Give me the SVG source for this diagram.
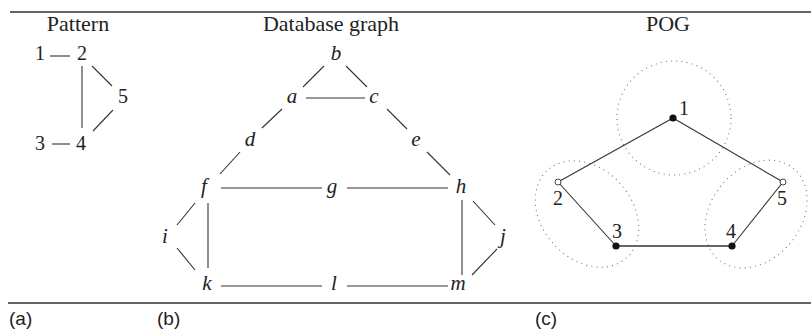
<svg xmlns="http://www.w3.org/2000/svg" width="811" height="334" viewBox="0 0 811 334">
<style>
.t{font-family:"Liberation Serif","Times New Roman",serif;font-size:22px;fill:#222;text-anchor:middle}
.n{font-family:"Liberation Serif","Times New Roman",serif;font-size:20px;fill:#222;text-anchor:middle}
.v{font-family:"Liberation Serif","Times New Roman",serif;font-size:21px;font-style:italic;fill:#222;text-anchor:middle}
.p{font-family:"Liberation Sans",Arial,sans-serif;font-size:19px;fill:#222}
.e line{stroke:#333;stroke-width:1.1}
.rule{stroke:#333;stroke-width:1.7}
.dot{fill:none;stroke:#777;stroke-width:1.1;stroke-dasharray:1 4.2}
.full{fill:#111}
.open{fill:#fff;stroke:#333;stroke-width:0.9}
</style>
<line class="rule" x1="10" y1="12" x2="811" y2="12"/>
<line class="rule" x1="8" y1="303" x2="811" y2="303"/>
<text class="t" x="78" y="31">Pattern</text>
<text class="t" x="331" y="31">Database graph</text>
<text class="t" x="668" y="31">POG</text>
<text class="p" x="9" y="325">(a)</text>
<text class="p" x="157" y="325">(b)</text>
<text class="p" x="535" y="325">(c)</text>

<g id="pattern-edges" class="e">
<line x1="50" y1="56" x2="70" y2="56"/>
<line x1="52" y1="144" x2="70" y2="144"/>
<line x1="82" y1="66" x2="82" y2="128"/>
<line x1="92" y1="66" x2="112" y2="86"/>
<line x1="93" y1="131" x2="113" y2="110"/>
</g>
<g id="p1"><text class="n" x="40" y="60">1</text></g>
<g id="p2"><text class="n" x="82" y="60">2</text></g>
<g id="p3"><text class="n" x="40" y="150">3</text></g>
<g id="p4"><text class="n" x="81" y="150">4</text></g>
<g id="p5"><text class="n" x="123" y="103">5</text></g>

<g id="db-edges" class="e">
<line x1="324" y1="66" x2="303" y2="87"/>
<line x1="346" y1="66" x2="367" y2="87"/>
<line x1="306" y1="98" x2="365" y2="98"/>
<line x1="282" y1="109" x2="262" y2="128"/>
<line x1="387" y1="109" x2="407" y2="129"/>
<line x1="240" y1="152" x2="220" y2="174"/>
<line x1="427" y1="152" x2="450" y2="175"/>
<line x1="221" y1="188" x2="322" y2="188"/>
<line x1="347" y1="188" x2="448" y2="188"/>
<line x1="195" y1="203" x2="177" y2="225"/>
<line x1="177" y1="248" x2="195" y2="270"/>
<line x1="208" y1="203" x2="208" y2="268"/>
<line x1="462" y1="200" x2="462" y2="275"/>
<line x1="473" y1="201" x2="495" y2="225"/>
<line x1="497" y1="249" x2="472" y2="275"/>
<line x1="221" y1="286" x2="322" y2="286"/>
<line x1="347" y1="286" x2="448" y2="286"/>
</g>
<g id="db-b"><text class="v" x="336" y="60">b</text></g>
<g id="db-a"><text class="v" x="292" y="103">a</text></g>
<g id="db-c"><text class="v" x="374" y="103">c</text></g>
<g id="db-d"><text class="v" x="250" y="146">d</text></g>
<g id="db-e"><text class="v" x="416" y="146">e</text></g>
<g id="db-f"><text class="v" x="204" y="193">f</text></g>
<g id="db-g"><text class="v" x="332" y="193">g</text></g>
<g id="db-h"><text class="v" x="461" y="193">h</text></g>
<g id="db-i"><text class="v" x="165" y="243">i</text></g>
<g id="db-j"><text class="v" x="503" y="243">j</text></g>
<g id="db-k"><text class="v" x="207" y="290">k</text></g>
<g id="db-l"><text class="v" x="334" y="290">l</text></g>
<g id="db-m"><text class="v" x="458" y="290">m</text></g>

<g id="pog-regions">
<circle class="dot" cx="674" cy="118" r="57"/>
<ellipse class="dot" cx="587" cy="214" rx="59" ry="45" transform="rotate(48 587 214)"/>
<ellipse class="dot" cx="756" cy="214" rx="59" ry="45" transform="rotate(-51 756 214)"/>
</g>
<g id="pog-edges" class="e">
<line x1="673" y1="118" x2="558" y2="182"/>
<line x1="673" y1="118" x2="783" y2="182"/>
<line x1="558" y1="182" x2="616" y2="246"/>
<line x1="616" y1="246" x2="732" y2="246" style="stroke-width:1.4"/>
<line x1="732" y1="246" x2="783" y2="182"/>
</g>
<g id="pog1"><circle class="full" cx="673" cy="118" r="3.6"/><text class="n" x="684" y="115">1</text></g>
<g id="pog2"><circle class="open" cx="558" cy="182" r="3"/><text class="n" x="558" y="205">2</text></g>
<g id="pog3"><circle class="full" cx="616" cy="246" r="3.6"/><text class="n" x="617" y="238">3</text></g>
<g id="pog4"><circle class="full" cx="732" cy="246" r="3.6"/><text class="n" x="731" y="238">4</text></g>
<g id="pog5"><circle class="open" cx="783" cy="182" r="3"/><text class="n" x="782" y="205">5</text></g>
</svg>
